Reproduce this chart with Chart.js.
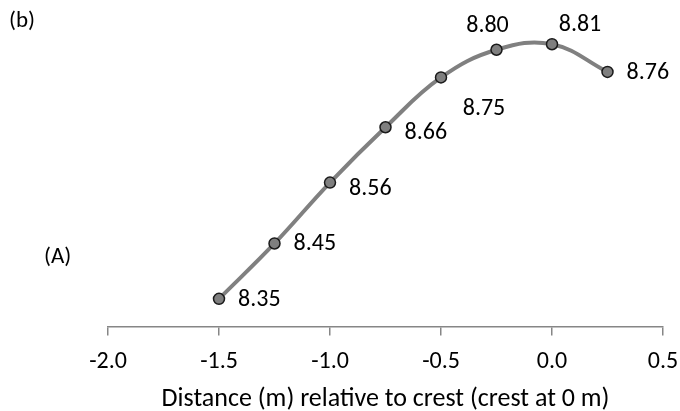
<!DOCTYPE html>
<html>
<head>
<meta charset="utf-8">
<script src="https://cdn.jsdelivr.net/npm/chart.js@4/dist/chart.umd.min.js"></script>
<style>
  html, body { margin: 0; padding: 0; background: #fff; }
  #wrap { width: 680px; height: 411px; }
</style>
</head>
<body>
<div id="wrap"><canvas id="chart_profile" width="680" height="411"></canvas></div>
<script>
// distance from crest (m) and measured values
const distances = [-1.5, -1.25, -1.0, -0.75, -0.5, -0.25, 0.0, 0.25];
const values = [8.35, 8.45, 8.56, 8.66, 8.75, 8.80, 8.81, 8.76];
const valueLabels = ["8.35", "8.45", "8.56", "8.66", "8.75", "8.80", "8.81", "8.76"];
const xTicks = [-2.0, -1.5, -1.0, -0.5, 0.0, 0.5];
const xTitle = "Distance (m) relative to crest (crest at 0 m)";

const FONT = "Carlito, Calibri, 'Open Sans', sans-serif";

// where each value label sits relative to its point [dx, dy, align]
const labelOffsets = [
  [19, 1, "left"],
  [19, 1, "left"],
  [19, 6, "left"],
  [19, 6, "left"],
  [43, 32, "center"],
  [-9, -24, "center"],
  [28, -19, "center"],
  [19, 1, "left"],
];

const labelPlugin = {
  id: "valueLabels",
  afterDatasetsDraw(chart) {
    const ctx = chart.ctx;
    const meta = chart.getDatasetMeta(0);
    ctx.save();
    ctx.fillStyle = "#000";
    ctx.font = "24px " + FONT;
    ctx.textBaseline = "middle";
    meta.data.forEach((pt, i) => {
      const off = labelOffsets[i];
      ctx.textAlign = off[2];
      ctx.fillText(valueLabels[i], pt.x + off[0], pt.y + off[1]);
    });
    ctx.textAlign = "left";
    ctx.font = "23px " + FONT;
    ctx.fillText("(b)", 9, 21);
    ctx.fillText("(A)", 44, 257);
    ctx.restore();
  },
};

const ctx = document.getElementById("chart_profile").getContext("2d");
new Chart(ctx, {
  type: "line",
  data: {
    datasets: [
      {
        data: distances.map((d, i) => ({ x: d, y: values[i] })),
        borderColor: "#808080",
        borderWidth: 4,
        tension: 0.4,
        pointRadius: 5.5,
        pointBackgroundColor: "#7f7f7f",
        pointBorderColor: "#1a1a1a",
        pointBorderWidth: 1.5,
        clip: false,
      },
    ],
  },
  options: {
    responsive: false,
    animation: false,
    layout: {
      padding: { left: 108, right: 17, top: 11, bottom: 0 },
    },
    scales: {
      x: {
        type: "linear",
        min: -2.0,
        max: 0.5,
        afterBuildTicks: (axis) => {
          axis.ticks = xTicks.map((v) => ({ value: v }));
        },
        afterFit: (axis) => {
          axis.paddingLeft = 0;
          axis.paddingRight = 0;
          axis.height = 84.5;
        },
        ticks: {
          padding: 12,
          color: "#000",
          font: { family: FONT, size: 24 },
          callback: (v) => Number(v).toFixed(1),
        },
        grid: {
          drawOnChartArea: false,
          drawTicks: true,
          tickLength: 9,
          color: "#868686",
          lineWidth: 1.5,
        },
        border: { display: true, color: "#868686", width: 1.5 },
        title: {
          display: true,
          text: xTitle,
          color: "#000",
          font: { family: FONT, size: 26, lineHeight: 0.9 },
          padding: { top: 0, bottom: 0 },
        },
      },
      y: {
        display: false,
        min: 8.30,
        max: 8.87,
      },
    },
    plugins: {
      legend: { display: false },
      tooltip: { enabled: false },
    },
  },
  plugins: [labelPlugin],
});
</script>
</body>
</html>
